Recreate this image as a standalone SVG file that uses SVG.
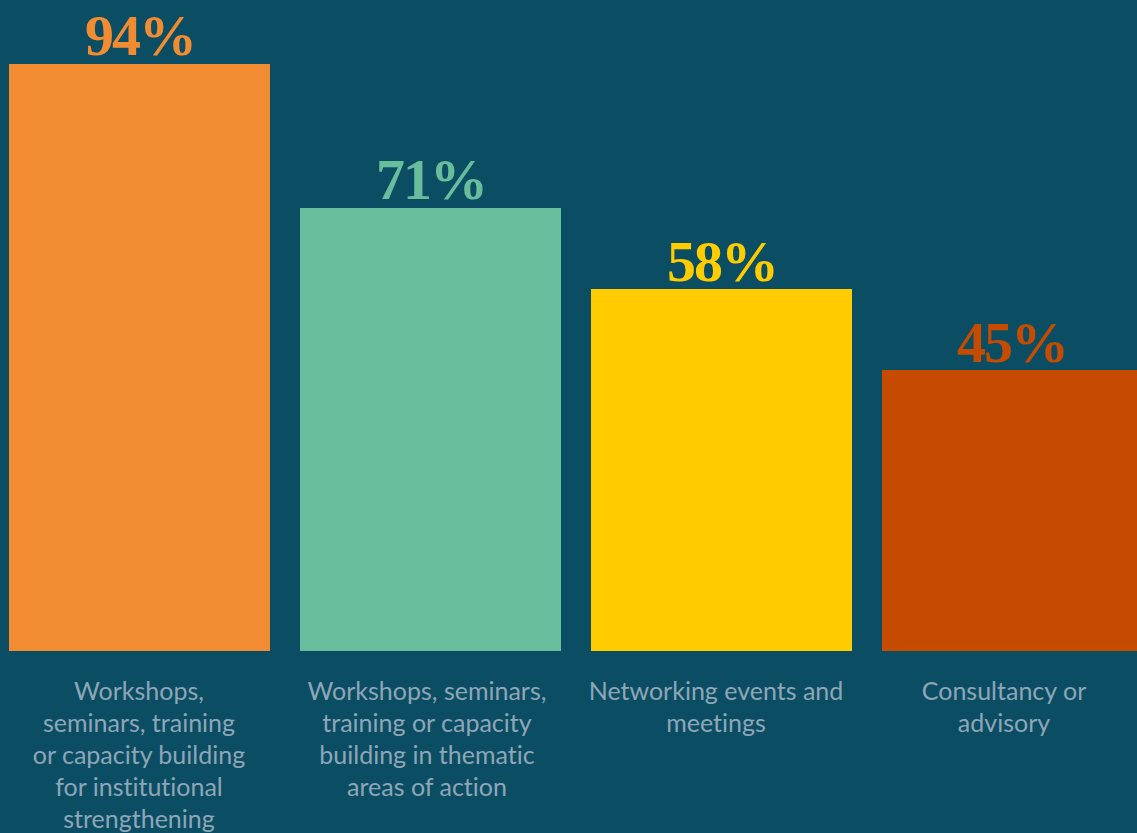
<svg xmlns="http://www.w3.org/2000/svg" width="1137" height="833" viewBox="0 0 1137 833">
<style>
.pct{font-family:"Liberation Serif",serif;font-weight:bold;font-size:58px;letter-spacing:-2px;text-anchor:middle}
.lbl{font-family:"Lato","Open Sans",sans-serif;font-size:25px;fill:#8ea6b7;text-anchor:middle;font-variant-ligatures:none}
</style>
<rect width="1137" height="833" fill="#0b4e63"/>
<g id="bar1">
<rect x="9" y="64" width="261" height="587" fill="#f28c33"/>
<text class="pct" x="140" y="55" fill="#f28c33">94%</text>
<text class="lbl" x="139" y="700">Workshops,</text>
<text class="lbl" x="139" y="732">seminars, training</text>
<text class="lbl" x="139" y="764">or capacity building</text>
<text class="lbl" x="139" y="796">for institutional</text>
<text class="lbl" x="139" y="828">strengthening</text>
</g>
<g id="bar2">
<rect x="300" y="208" width="261" height="443" fill="#68be9c"/>
<text class="pct" x="431" y="199" fill="#68be9c">71%</text>
<text class="lbl" x="427" y="700">Workshops, seminars,</text>
<text class="lbl" x="427" y="732">training or capacity</text>
<text class="lbl" x="427" y="764">building in thematic</text>
<text class="lbl" x="427" y="796">areas of action</text>
</g>
<g id="bar3">
<rect x="591" y="289" width="261" height="362" fill="#ffcc00"/>
<text class="pct" x="722" y="281" fill="#ffcc00">58%</text>
<text class="lbl" x="716" y="700">Networking events and</text>
<text class="lbl" x="716" y="732">meetings</text>
</g>
<g id="bar4">
<rect x="882" y="370" width="255" height="281" fill="#c44b00"/>
<text class="pct" x="1012" y="362" fill="#c44b00">45%</text>
<text class="lbl" x="1004" y="700">Consultancy or</text>
<text class="lbl" x="1004" y="732">advisory</text>
</g>
<g id="connectors"/>
</svg>
